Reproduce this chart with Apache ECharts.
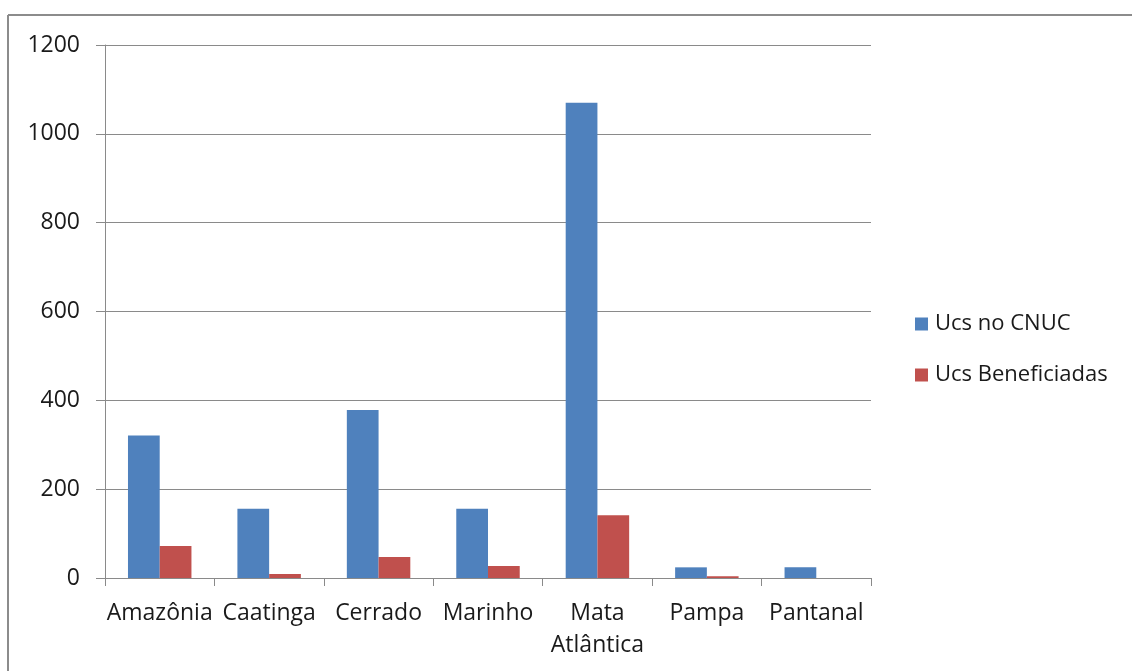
<!DOCTYPE html>
<html>
<head>
<meta charset="utf-8">
<style>
  html, body { margin: 0; padding: 0; background: #fff; }
  #chart { width: 1132px; height: 671px; }
</style>
<script src="https://cdn.jsdelivr.net/npm/echarts@6/dist/echarts.min.js"></script>
</head>
<body>
<div id="chart"></div>
<script>
// Unidades de conservação por bioma
const biomas = ['Amazônia', 'Caatinga', 'Cerrado', 'Marinho', 'Mata Atlântica', 'Pampa', 'Pantanal'];
const ucsNoCnuc = [321, 156, 378, 156, 1070, 24, 24];
const ucsBeneficiadas = [72, 9, 47, 27, 141, 4, 0];
const yTicks = { min: 0, max: 1200, interval: 200 };

const FONT = '"Open Sans", "Noto Sans", sans-serif';
const AXIS_GRAY = '#8a8a8a';
const TEXT = '#1a1a1a';

const chart = echarts.init(document.getElementById('chart'), null, { renderer: 'canvas' });

chart.setOption({
  backgroundColor: '#ffffff',
  animation: false,
  textStyle: { fontFamily: FONT, color: TEXT },
  graphic: [
    // frame: top and left edges
    { type: 'line', shape: { x1: 8, y1: 15, x2: 1132, y2: 15 }, style: { stroke: '#8c8c8c', lineWidth: 2 } },
    { type: 'line', shape: { x1: 8, y1: 15, x2: 8, y2: 671 }, style: { stroke: '#8c8c8c', lineWidth: 2 } }
  ],
  grid: { left: 105, right: 261, top: 45, bottom: 93, containLabel: false },
  legend: {
    orient: 'vertical',
    left: 910,
    top: 308,
    itemWidth: 13,
    itemHeight: 13,
    itemGap: 29,
    icon: 'rect',
    textStyle: { fontFamily: FONT, fontSize: 22, color: TEXT, padding: [0, 0, 0, 2] },
    data: ['Ucs no CNUC', 'Ucs Beneficiadas']
  },
  xAxis: {
    type: 'category',
    data: biomas,
    axisLine: { lineStyle: { color: AXIS_GRAY, width: 1 } },
    axisTick: { show: true, length: 8, alignWithLabel: false, lineStyle: { color: AXIS_GRAY } },
    axisLabel: {
      interval: 0,
      margin: 19,
      fontFamily: FONT,
      fontSize: 23,
      color: TEXT,
      lineHeight: 32,
      formatter: v => v.replace(' ', '\n')
    }
  },
  yAxis: {
    type: 'value',
    min: yTicks.min,
    max: yTicks.max,
    interval: yTicks.interval,
    axisLine: { show: true, lineStyle: { color: AXIS_GRAY, width: 1 } },
    axisTick: { show: true, length: 9, inside: false, lineStyle: { color: AXIS_GRAY } },
    splitLine: { show: true, lineStyle: { color: AXIS_GRAY, width: 1 } },
    axisLabel: { margin: 25, fontFamily: FONT, fontSize: 23, color: TEXT, formatter: v => String(v) }
  },
  series: [
    {
      name: 'Ucs no CNUC',
      type: 'bar',
      data: ucsNoCnuc,
      barGap: '0%',
      barCategoryGap: '42%',
      itemStyle: { color: '#4f81bd' }
    },
    {
      name: 'Ucs Beneficiadas',
      type: 'bar',
      data: ucsBeneficiadas,
      itemStyle: { color: '#c0504d' }
    }
  ]
});
</script>
</body>
</html>
